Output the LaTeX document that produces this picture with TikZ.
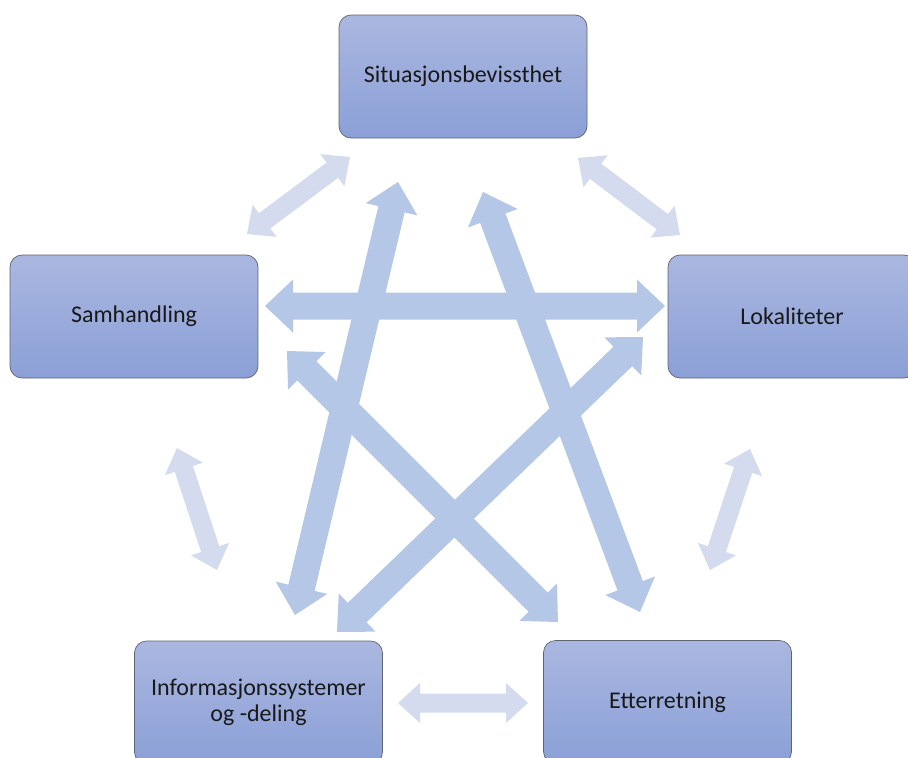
\documentclass[tikz,border=0pt]{standalone}
\usepackage{fontspec}
\setmainfont{Carlito}
\usetikzlibrary{calc}
\definecolor{innerarr}{RGB}{180,199,231}
\definecolor{outerarr}{RGB}{213,219,238}
\definecolor{boxtop}{RGB}{170,183,224}
\definecolor{boxbot}{RGB}{139,160,215}
\definecolor{boxline}{RGB}{95,100,115}
\newcommand{\dblarr}[6]{%
  \coordinate (h1) at ($(#2)!#6!(#3)$);
  \coordinate (h2) at ($(#3)!#6!(#2)$);
  \fill[#1] (#2) -- ($(h1)!#5!90:(#3)$) -- ($(h1)!#4!90:(#3)$) -- ($(h2)!#4!-90:(#2)$) -- ($(h2)!#5!-90:(#2)$) -- (#3) -- ($(h2)!#5!90:(#2)$) -- ($(h2)!#4!90:(#2)$) -- ($(h1)!#4!-90:(#3)$) -- ($(h1)!#5!-90:(#3)$) -- cycle;
}
\tikzset{
  box/.style={draw=boxline, line width=0.7pt, rounded corners=12pt, top color=boxtop, bottom color=boxbot,
    minimum width=248pt, minimum height=123pt, inner sep=0pt, align=center,
    font=\fontsize{24}{26}\selectfont, text=black!90},
  innerfill/.style={fill=innerarr},
  outerfill/.style={fill=outerarr}
}
\begin{document}
\begin{tikzpicture}[x=1pt,y=-1pt]
\useasboundingbox (0,0) rectangle (908,758);
\clip (0,0) rectangle (908,758);
\fill[white] (0,0) rectangle (908,758);
% boxes
\node[box] (sit) at (463,76.5) {Situasjonsbevissthet};
\node[box] (sam) at (134,316.5) {Samhandling};
\node[box] (lok) at (792,316.5) {Lokaliteter};
\node[box] (inf) at (258.5,702.5) {Informasjonssystemer\\og -deling};
\node[box] (ett) at (667.5,702) {Etterretning};
% arrow end coordinates
\coordinate (o1a) at (350,157); \coordinate (o1b) at (247,234);
\coordinate (o2a) at (578,158); \coordinate (o2b) at (680,235);
\coordinate (o3a) at (177,448); \coordinate (o3b) at (217,570);
\coordinate (o4a) at (750,449); \coordinate (o4b) at (710,570);
\coordinate (o5a) at (398,703); \coordinate (o5b) at (528,703);
\coordinate (i1a) at (265,306); \coordinate (i1b) at (665,306);
\coordinate (i2a) at (398,182); \coordinate (i2b) at (295,615);
\coordinate (i3a) at (483,192); \coordinate (i3b) at (640,612);
\coordinate (i4a) at (287,351); \coordinate (i4b) at (558,622);
\coordinate (i5a) at (643,337); \coordinate (i5b) at (337,632);
% outer arrows
\dblarr{outerfill}{o1a}{o1b}{9.5pt}{20pt}{22pt}
\dblarr{outerfill}{o2a}{o2b}{9.5pt}{20pt}{22pt}
\dblarr{outerfill}{o3a}{o3b}{9.5pt}{20pt}{22pt}
\dblarr{outerfill}{o4a}{o4b}{9.5pt}{20pt}{22pt}
\dblarr{outerfill}{o5a}{o5b}{9.5pt}{20pt}{22pt}
% inner arrows
\dblarr{innerfill}{i1a}{i1b}{13.5pt}{26.5pt}{28pt}
\dblarr{innerfill}{i2a}{i2b}{13.5pt}{26.5pt}{28pt}
\dblarr{innerfill}{i3a}{i3b}{13.5pt}{26.5pt}{28pt}
\dblarr{innerfill}{i4a}{i4b}{13.5pt}{26.5pt}{28pt}
\dblarr{innerfill}{i5a}{i5b}{13.5pt}{26.5pt}{28pt}
\end{tikzpicture}
\end{document}
